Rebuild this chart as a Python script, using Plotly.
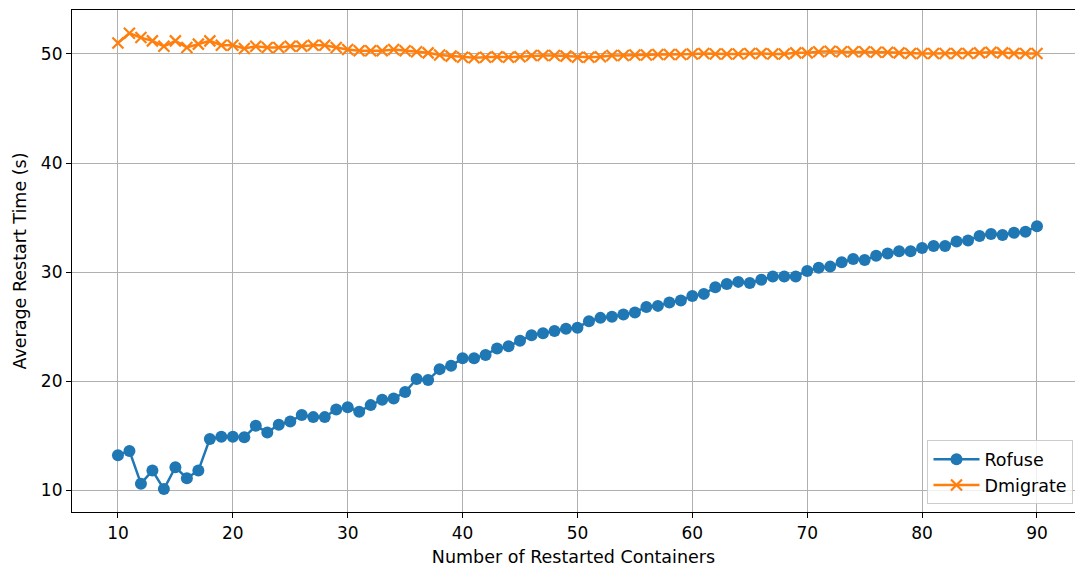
import plotly.graph_objects as go

containers = list(range(10, 91))

rofuse = [13.2, 13.6, 10.6, 11.8, 10.1, 12.1, 11.1, 11.8, 14.7, 14.9,
          14.9, 14.85, 15.9, 15.3, 16.0, 16.3, 16.9, 16.7, 16.7, 17.4,
          17.6, 17.2, 17.8, 18.3, 18.4, 19.0, 20.2, 20.1, 21.1, 21.4,
          22.1, 22.1, 22.4, 23.0, 23.2, 23.7, 24.2, 24.4, 24.6, 24.8,
          24.9, 25.5, 25.8, 25.9, 26.1, 26.3, 26.8, 26.9, 27.2, 27.4,
          27.8, 28.0, 28.6, 28.9, 29.1, 29.0, 29.3, 29.6, 29.6, 29.6,
          30.1, 30.4, 30.5, 30.9, 31.2, 31.1, 31.5, 31.7, 31.9, 31.9,
          32.2, 32.4, 32.4, 32.8, 32.9, 33.3, 33.5, 33.4, 33.6, 33.7,
          34.2]

dmigrate = [51.0, 51.9, 51.5, 51.2, 50.7, 51.2, 50.6, 50.9, 51.2, 50.8,
            50.8, 50.5, 50.7, 50.6, 50.6, 50.7, 50.7, 50.8, 50.8, 50.6,
            50.4, 50.3, 50.3, 50.3, 50.4, 50.3, 50.2, 50.1, 49.9, 49.8,
            49.7, 49.65, 49.7, 49.75, 49.7, 49.75, 49.85, 49.85, 49.85, 49.8,
            49.7, 49.7, 49.75, 49.85, 49.85, 49.9, 49.9, 49.95, 49.95, 49.95,
            50.0, 50.05, 50.0, 50.0, 50.0, 50.05, 50.05, 50.0, 50.0, 50.1,
            50.1, 50.2, 50.25, 50.2, 50.2, 50.2, 50.15, 50.15, 50.1, 50.05,
            50.05, 50.05, 50.05, 50.05, 50.05, 50.1, 50.15, 50.1, 50.05, 50.05,
            50.05]

font_family = "DejaVu Sans"

fig = go.Figure()
fig.add_trace(go.Scatter(
    x=containers, y=rofuse, name="Rofuse", mode="lines+markers",
    line=dict(color="#1f77b4", width=2.5),
    marker=dict(symbol="circle", size=12, color="#1f77b4"),
))
fig.add_trace(go.Scatter(
    x=containers, y=dmigrate, name="Dmigrate", mode="lines+markers",
    line=dict(color="#ff7f0e", width=2.5),
    marker=dict(symbol="x-thin", size=11, color="#ff7f0e",
                line=dict(color="#ff7f0e", width=2.2)),
))

fig.update_layout(
    width=1075, height=568,
    margin=dict(l=72, r=0, t=10, b=56),
    paper_bgcolor="white", plot_bgcolor="white",
    font=dict(family=font_family, size=17, color="black"),
    showlegend=True,
    legend=dict(x=0.9985, xanchor="right", y=0.015, yanchor="bottom",
                bgcolor="rgba(255,255,255,0.8)", bordercolor="#cccccc",
                borderwidth=1, font=dict(size=17.5),
                tracegroupgap=2, itemwidth=46),
)

fig.update_xaxes(
    range=[6, 93.31],
    tickvals=[10, 20, 30, 40, 50, 60, 70, 80, 90],
    ticks="outside", ticklen=5, tickwidth=1, tickcolor="black",
    tickfont=dict(size=17),
    showline=True, linecolor="black", linewidth=1.2, mirror=True,
    showgrid=True, gridcolor="#b0b0b0", gridwidth=1,
    zeroline=False,
    title=dict(text="Number of Restarted Containers", font=dict(size=17.5), standoff=9),
)
fig.update_yaxes(
    range=[8.0, 54.03],
    tickvals=[10, 20, 30, 40, 50],
    ticks="outside", ticklen=5, tickwidth=1, tickcolor="black",
    tickfont=dict(size=17),
    showline=True, linecolor="black", linewidth=1.2, mirror=False,
    showgrid=True, gridcolor="#b0b0b0", gridwidth=1,
    zeroline=False,
    title=dict(text="Average Restart Time (s)", font=dict(size=17.5), standoff=9),
)

fig.write_html("out.html")
